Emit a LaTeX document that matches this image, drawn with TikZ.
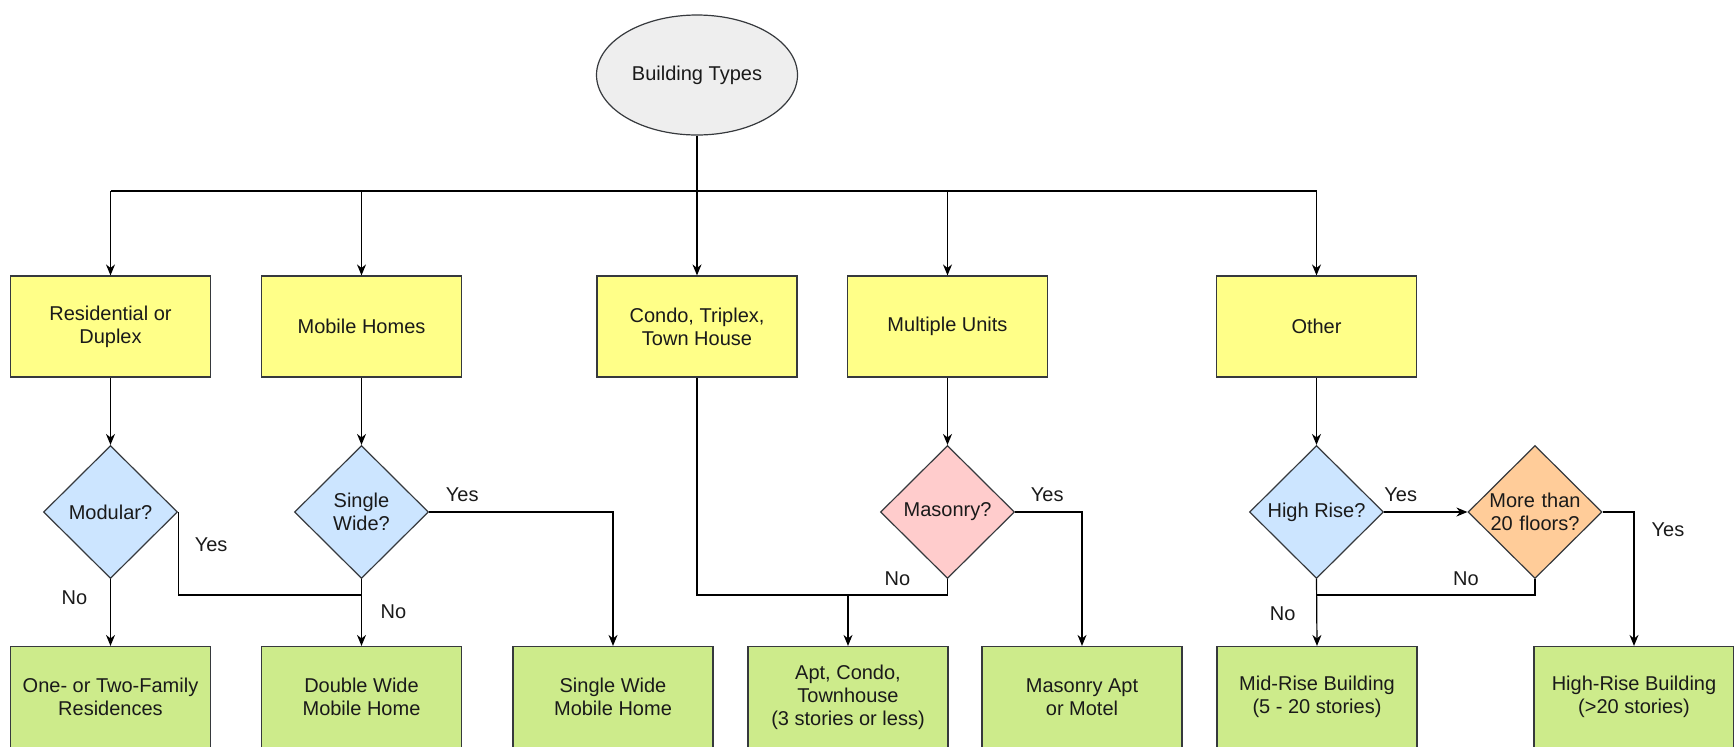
\documentclass[tikz,border=0pt]{standalone}
\usepackage{fontspec}
\setmainfont{Liberation Sans}
\usepackage{tikz}
\usetikzlibrary{arrows.meta,shapes.geometric,calc,positioning}
\definecolor{boxline}{HTML}{36393D}
\definecolor{ylw}{HTML}{FFFF88}
\definecolor{grn}{HTML}{CDEB8B}
\definecolor{blu}{HTML}{CCE5FF}
\definecolor{pnk}{HTML}{FFCCCC}
\definecolor{org}{HTML}{FFCC99}
\definecolor{gry}{HTML}{EEEEEE}
\definecolor{txt}{HTML}{1A1A1A}

\begin{document}
\begin{tikzpicture}[x=0.5pt,y=-0.5pt,
  font=\fontsize{10}{11.5}\selectfont, text=txt,
  every node/.style={align=center},
  start/.style={ellipse,draw=boxline,fill=gry,minimum width=100.5pt,minimum height=60pt,inner sep=0pt},
  kind/.style={rectangle,draw=boxline,fill=ylw,minimum width=100pt,minimum height=50.5pt},
  result/.style={rectangle,draw=boxline,fill=grn,minimum width=100pt,minimum height=50.5pt},
  ask/.style={diamond,draw=boxline,fill=#1,minimum width=67pt,minimum height=66.5pt,inner sep=0pt},
  arr/.style={-{Stealth[length=5.5pt,width=4.5pt]}},
  line width=0.6pt]
\useasboundingbox (0,0) rectangle (1734,746);

% top
\node[start] (bt) at (697,75) {Building Types};

% first level
\node[kind] (res) at (110.5,326.5) {Residential or\\Duplex};
\node[kind] (mob) at (361.5,326.5) {Mobile Homes};
\node[kind] (con) at (697,326.5) {Condo, Triplex,\\Town House};
\node[kind] (mul) at (947.5,326.5) {Multiple Units};
\node[kind] (oth) at (1316.5,326.5) {Other};

% questions
\node[ask=blu] (mod) at (110.5,512) {Modular?};
\node[ask=blu] (sgl) at (361.5,512) {Single\\Wide?};
\node[ask=pnk] (mas) at (947.5,512) {Masonry?};
\node[ask=blu] (hr) at (1316.5,512) {High Rise?};
\node[ask=org,text width=46pt] (flr) at (1535,512) {More than\\20 floors?};

% results
\node[result] (fam) at (110.5,697) {One- or Two-Family\\Residences};
\node[result] (dbl) at (361.5,697) {Double Wide\\Mobile Home};
\node[result] (swm) at (613,697) {Single Wide\\Mobile Home};
\node[result] (apt) at (848,697) {Apt, Condo,\\Townhouse\\(3 stories or less)};
\node[result] (mapt) at (1082,697) {Masonry Apt\\or Motel};
\node[result] (mid) at (1317,697) {Mid-Rise Building\\(5 - 20 stories)};
\node[result] (hig) at (1634,697) {High-Rise Building\\(>20 stories)};

% bus
\coordinate (bus) at (0,191);
\coordinate (low) at (0,595);
\draw (bt.south) -- (bt.south |- bus);
\draw (res.north |- bus) -- (oth.north |- bus);
\foreach \k in {res,mob,con,mul,oth}
  \draw[arr] (\k.north |- bus) -- (\k.north);

\draw[arr] (res) -- (mod);
\draw[arr] (mob) -- (sgl);
\draw[arr] (mul) -- (mas);
\draw[arr] (oth) -- (hr);

% residential
\draw[arr] (mod.south) -- node[pos=0.28,xshift=-18pt]{No} (fam.north);
\draw (mod.east) -- node[pos=0.4,xshift=16.5pt]{Yes} (mod.east |- low) -- (sgl.south |- low);

% mobile
\draw[arr] (sgl.south) -- node[pos=0.49,xshift=16pt]{No} (dbl.north);
\draw[arr] (sgl.east) -- node[pos=0.18,yshift=8.5pt]{Yes} (sgl.east -| swm.north) -- (swm.north);

% condo and masonry
\coordinate (j2) at (apt.north |- low);
\draw (mas.south) -- node[pos=0,xshift=-25pt]{No} (mas.south |- low) -- (con.south |- low) -- (con.south);
\draw[arr] (j2) -- (apt.north);
\draw[arr] (mas.east) -- node[pos=0.48,yshift=8.5pt]{Yes} (mas.east -| mapt.north) -- (mapt.north);

% other
\draw[arr] (hr.east) -- node[pos=0.2,yshift=8.5pt]{Yes} (flr.west);
\draw[arr] (hr.south) -- node[pos=0.52,xshift=-17pt]{No} (mid.north);
\draw (flr.south) -- node[pos=0,xshift=-34.5pt]{No} (flr.south |- low) -- (hr.south |- low);
\draw[arr] (flr.east) -- (flr.east -| hig.north) -- node[pos=0.13,xshift=17pt]{Yes} (hig.north);
\end{tikzpicture}
\end{document}
